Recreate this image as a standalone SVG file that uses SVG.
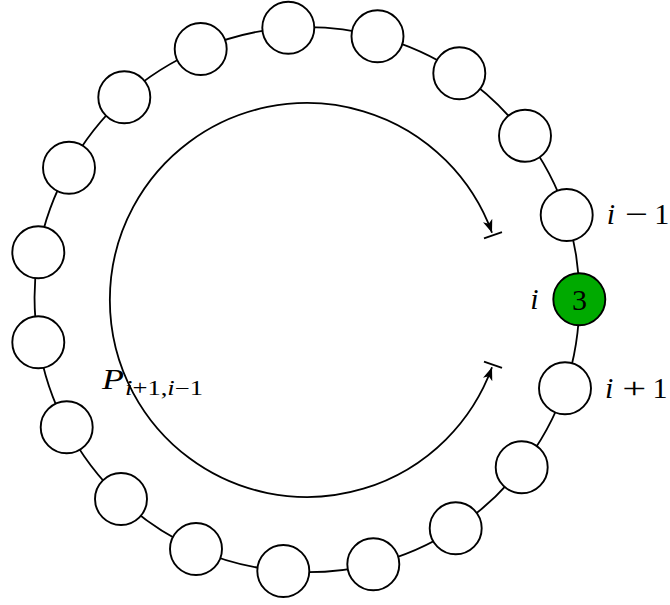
<svg xmlns="http://www.w3.org/2000/svg" width="670" height="605" viewBox="0 0 670 605">
<style>
.node{fill:#ffffff;stroke:#000000;stroke-width:1.9}
.green{fill:#00aa00;stroke:#000000;stroke-width:1.9}
.ring{fill:none;stroke:#000000;stroke-width:1.8}
.arc{fill:none;stroke:#000000;stroke-width:1.8}
.lbl{font-family:"Liberation Serif","Times New Roman",serif;font-size:30px;fill:#000000;text-anchor:middle}
.it{font-style:italic}
</style>
<defs>
<marker id="arr" markerUnits="userSpaceOnUse" markerWidth="13" markerHeight="10" viewBox="0 0 13 10" refX="13" refY="5" orient="auto-start-reverse">
<path d="M0,0 L13,5 L0,10 L3.5,5 Z" fill="#000000"/>
</marker>
</defs>
<rect width="670" height="605" fill="#ffffff"/>
<g id="connectors">
<path class="ring" d="M579.3,299.3 A272,272 0 0 0 566.7,215"/>
<path class="ring" d="M566.7,215 A272,272 0 0 0 525,135.7"/>
<path class="ring" d="M525,135.7 A272,272 0 0 0 459.3,73.3"/>
<path class="ring" d="M459.3,73.3 A272,272 0 0 0 377.5,36.3"/>
<path class="ring" d="M377.5,36.3 A272,272 0 0 0 288.3,27.7"/>
<path class="ring" d="M288.3,27.7 A272,272 0 0 0 200.7,49"/>
<path class="ring" d="M200.7,49 A272,272 0 0 0 124.3,97.3"/>
<path class="ring" d="M124.3,97.3 A272,272 0 0 0 69,167.7"/>
<path class="ring" d="M69,167.7 A272,272 0 0 0 38.3,252.3"/>
<path class="ring" d="M38.3,252.3 A272,272 0 0 0 38.3,342.3"/>
<path class="ring" d="M38.3,342.3 A272,272 0 0 0 66.7,427.3"/>
<path class="ring" d="M66.7,427.3 A272,272 0 0 0 121,499"/>
<path class="ring" d="M121,499 A272,272 0 0 0 196,549"/>
<path class="ring" d="M196,549 A272,272 0 0 0 283.3,571"/>
<path class="ring" d="M283.3,571 A272,272 0 0 0 373.3,564.3"/>
<path class="ring" d="M373.3,564.3 A272,272 0 0 0 455.7,528.3"/>
<path class="ring" d="M455.7,528.3 A272,272 0 0 0 521.7,467.3"/>
<path class="ring" d="M521.7,467.3 A272,272 0 0 0 565,388.3"/>
<path class="ring" d="M565,388.3 A272,272 0 0 0 579.3,299.3"/>
</g>
<g id="path-arc">
<path class="arc" d="M492.0,367.3 A197,197 0 1 1 492.0,232.7" marker-start="url(#arr)" marker-end="url(#arr)"/>
<line class="arc" x1="484.0" y1="238.3" x2="502.0" y2="232.1"/>
<line class="arc" x1="484.0" y1="361.7" x2="502.0" y2="367.9"/>
</g>
<g id="n0"><circle class="green" cx="579.3" cy="299.3" r="26"/><text class="lbl" x="579.5" y="310" font-size="31">3</text></g>
<g id="n1"><circle class="node" cx="566.7" cy="215" r="26"/></g>
<g id="n2"><circle class="node" cx="525" cy="135.7" r="26"/></g>
<g id="n3"><circle class="node" cx="459.3" cy="73.3" r="26"/></g>
<g id="n4"><circle class="node" cx="377.5" cy="36.3" r="26"/></g>
<g id="n5"><circle class="node" cx="288.3" cy="27.7" r="26"/></g>
<g id="n6"><circle class="node" cx="200.7" cy="49" r="26"/></g>
<g id="n7"><circle class="node" cx="124.3" cy="97.3" r="26"/></g>
<g id="n8"><circle class="node" cx="69" cy="167.7" r="26"/></g>
<g id="n9"><circle class="node" cx="38.3" cy="252.3" r="26"/></g>
<g id="n10"><circle class="node" cx="38.3" cy="342.3" r="26"/></g>
<g id="n11"><circle class="node" cx="66.7" cy="427.3" r="26"/></g>
<g id="n12"><circle class="node" cx="121" cy="499" r="26"/></g>
<g id="n13"><circle class="node" cx="196" cy="549" r="26"/></g>
<g id="n14"><circle class="node" cx="283.3" cy="571" r="26"/></g>
<g id="n15"><circle class="node" cx="373.3" cy="564.3" r="26"/></g>
<g id="n16"><circle class="node" cx="455.7" cy="528.3" r="26"/></g>
<g id="n17"><circle class="node" cx="521.7" cy="467.3" r="26"/></g>
<g id="n18"><circle class="node" cx="565" cy="388.3" r="26"/></g>
<g id="labels">
<text class="lbl it" x="611" y="224.3">i</text>
<text class="lbl" x="636.7" y="224.3" textLength="23" lengthAdjust="spacingAndGlyphs">−</text>
<text class="lbl" x="661.7" y="224.3">1</text>
<text class="lbl it" x="609.2" y="398.3">i</text>
<text class="lbl" x="634.2" y="398.3" textLength="24" lengthAdjust="spacingAndGlyphs">+</text>
<text class="lbl" x="660" y="398.3">1</text>
<text class="lbl it" x="534.5" y="309.3">i</text>
<text style="font-family:'Liberation Serif','Times New Roman',serif;font-size:29px;font-style:italic" x="102" y="389" textLength="22" lengthAdjust="spacingAndGlyphs">P</text>
<text style="font-family:'Liberation Serif','Times New Roman',serif;font-size:20px" x="125" y="395" textLength="78" lengthAdjust="spacingAndGlyphs"><tspan font-style="italic">i</tspan>+1,<tspan font-style="italic">i</tspan>−1</text>
</g>
</svg>
